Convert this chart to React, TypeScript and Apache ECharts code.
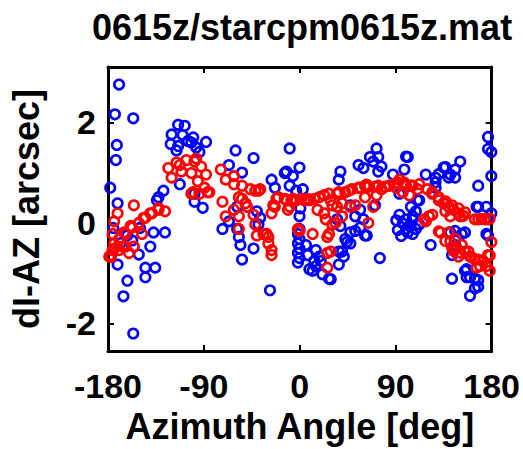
import React, { useEffect, useRef } from "react";
import * as echarts from "echarts";

const titleText = "0615z/starcpm0615z.mat";
const xName = "Azimuth Angle [deg]";
const yName = "dI-AZ [arcsec]";
const xTicks = [-180, -90, 0, 90, 180];
const yTicks = [-2, 0, 2];

// blue series: [azimuth deg, dI-AZ arcsec]
const bluePoints: number[][] = [
  [-169.6, 2.75], [-173.5, 2.16], [-156.3, 2.08], [-171.7, 1.55], [-172.6, 1.25], [-177.9, 0.7], [-171, 0.39],
  [-128, 0.64], [-132.6, 0.51], [-134.1, 0.45], [-137.3, -0.19], [-126.5, -0.19], [-140.3, -0.47], [-157.2, -0.35],
  [-151.1, -0.63], [-171, -0.83], [-144.9, -0.89], [-144.9, -1.08], [-135.7, -0.89], [-161.8, -1.15], [-165.5, -1.46],
  [-156.3, -2.2], [-175, -0.1], [-168, -0.4], [-162, -0.25], [-150, -0.1],
  [-114.2, 1.95], [-108, 1.93], [-120.3, 1.76], [-121.2, 1.57], [-105, 1.63], [-88, 1.61], [-97.2, 1.5], [-94.2, 1.41],
  [-101.8, 1.6], [-114.2, 1.53], [-115.7, 1.44], [-110, 1.75], [-100, 1.7], [-112.6, 0.77], [-98.8, 0.58], [-98.8, 0.42], [-91.1, 0.3],
  [-60.3, 1.44], [-66.5, 1.15], [-43.4, 1.29], [-54.2, 1.0], [-58.8, 0.32], [-58.8, -0.12],
  [-72.6, -0.12], [-66.5, 0.03], [-57.2, -0.28], [-55.7, -0.44], [-54.2, -0.73], [-43.4, -0.51], [-40.3, 0.23], [-37.2, 0.1],
  [-38.8, -0.03], [-28, -1.34], [-26.5, 0.86], [-23.4, 0.7], [-14.1, 0.99], [-9.5, 1.48], [-6.5, 0.93], [-0.3, 1.1],
  [-9.5, 0.74], [-3.4, 0.64], [2.8, 0.67], [-12.6, 1.02],
  [-0.3, 0.13], [-0.3, -0.12], [-1.8, -0.22], [-0.3, -0.32], [-1.8, -0.41], [-0.3, -0.51], [-1.8, -0.6], [-0.3, -0.7], [-1.8, -0.79], [0.5, 0.29],
  [5.8, -0.44], [7.4, -0.64], [9, -0.92], [12, -0.95], [15, -0.54], [13.6, -0.76], [15, -0.86], [18.2, -0.67], [19.7, -0.76],
  [21.2, -1.02], [27.4, -1.11], [29, -1.12], [36.6, -0.83], [39.7, -0.57], [41.3, -0.67], [36.6, -0.57], [44.3, -0.38], [42.7, -0.32],
  [47.4, -0.41], [35, 0.07], [38.1, -0.06], [47.4, -0.19], [52, 0.13], [52, -0.16], [56.6, -0.09], [61.2, -0.25], [47.4, 0.35],
  [38.1, 1.02], [36.6, 0.86], [55.1, 1.15],
  [72, 1.48], [99.7, 1.32], [65.8, 1.31], [68.9, 1.22], [73.6, 1.31], [73.6, 1.02], [76.6, 1.12], [59.7, 1.09], [87.4, 0.96],
  [98.1, 1.06], [101.3, 1.31], [118.2, 0.96], [135, 1.1], [127.4, 0.9], [127.4, 0.81], [141.2, 0.96], [150.5, 1.22], [145.8, 1.06],
  [136.6, 1.11], [130.4, 0.97], [139.7, 0.9], [145.8, 0.9],
  [176.6, 1.71], [176.6, 1.47], [179.7, 1.41], [179.7, 0.93], [167.4, 0.74],
  [127.4, 0.7], [110.5, 0.45], [104.3, 0.32], [105.9, 0.13], [112, 0.45], [108.9, 0.23], [105.9, 0.07], [112, -0.03], [105.9, -0.22],
  [93.5, 0.16], [90.5, 0.05], [96.6, -0.01], [92, -0.14], [99.7, -0.12], [102.8, -0.06], [95.1, -0.26], [108.9, -0.12], [101.3, -0.19],
  [99.7, 0.07], [93.5, 0.58], [70.5, 0.35],
  [59.7, 0.07], [62.8, -0.25], [75.1, -0.7], [56.6, 0.26], [122.8, -0.44], [141.2, -0.19], [145.8, -0.16], [152, -0.22], [145.8, -0.44],
  [142.8, -0.64], [144.3, -0.51], [155, -0.19],
  [167.4, 0.32], [165.9, 0.32], [175.1, 0.32], [179.7, 0.19], [176.6, 0.07], [176.6, -0.25], [175.1, -0.22],
  [155, -0.95], [156.6, -0.92], [159.7, -1.08], [156.6, -1.08], [167.4, -1.14], [164.3, -1.11], [164.3, -1.3], [167.4, -1.27],
  [159.7, -1.45], [142.8, -1.11],
];

// red series: [azimuth deg, dI-AZ arcsec]
const redPoints: number[][] = [
  [-178.8, -0.67], [-177.2, -0.68], [-175.7, -0.54], [-174.2, -0.41], [-169.6, -0.32], [-163.4, -0.22], [-157.2, -0.09],
  [-151.1, 0.0], [-144.9, 0.1], [-138.7, 0.19], [-132.6, 0.29], [-126.5, 0.23], [-155.7, 0.35], [-171, 0.19], [-174.2, 0.03],
  [-175.7, -0.22], [-169.6, -0.54], [-163.4, -0.47], [-155.7, -0.47], [-160.3, -0.6], [-148, -0.22], [-165, -0.19], [-158.8, -0.06],
  [-146.5, 0.1], [-140.3, 0.19], [-132.6, 0.26], [-177.2, -0.64], [-174.2, -0.51], [-166.4, -0.47],
  [-123.4, 1.09], [-115.7, 1.2], [-106.4, 1.25], [-98.8, 1.22], [-92.6, 1.12], [-120.3, 0.9], [-111.1, 1.02], [-101.8, 0.99],
  [-95.7, 0.83], [-89.5, 0.7], [-84.9, 0.61], [-100.3, 0.61], [-94.2, 0.58], [-97.2, 1.28], [-112.6, 1.15], [-88, 0.96],
  [-86.5, 0.61], [-101.8, 0.58],
  [-74.1, 1.06], [-69.5, 0.86], [-61.8, 0.77], [-72.6, 0.42], [-54.2, 0.74], [-46.4, 0.67], [-38.8, 0.64], [-54.2, 0.48],
  [-49.6, 0.32], [-61.8, 0.26], [-69.5, 0.13], [-57.2, 0.13], [-57.2, -0.12], [-43.4, 0.16], [-41.8, -0.03], [-34.2, -0.22],
  [-29.5, -0.28], [-26.5, -0.54], [-26.5, -0.64], [-40.3, -0.25], [-31.1, -0.22], [-29.5, -0.41], [-61.8, 0.93], [-57.2, 0.51],
  [-51, 0.39], [-37.2, 0.67], [-41.8, 0.64],
  [-24.9, 0.35], [-23.4, 0.32], [-26.5, 0.19], [-20.3, 0.51], [-21.9, 0.48], [-14.1, 0.48], [-6.5, 0.48], [1.2, 0.48], [7.4, 0.48],
  [13.6, 0.48], [-12.6, 0.45], [-8, 0.45], [-3.4, 0.45], [4.3, 0.45], [9, 0.45], [-11.1, 0.26], [-9.5, 0.32], [-1.8, -0.12],
  [-0.3, -0.16], [12, -0.22], [16.6, 0.26],
  [22.8, 0.55], [28.9, 0.45], [35, 0.58], [35, 0.32], [39.7, 0.13], [33.5, 0.0], [25.8, -0.28], [28.9, -0.57], [25.8, -0.89],
  [25.8, -0.6], [42.7, 0.61], [48.9, 0.67], [55.1, 0.7], [47.4, 0.32], [22.8, 0.19], [61.2, 0.74], [18.2, 0.51], [27.4, 0.58],
  [36.6, 0.61], [45.9, 0.64], [39.7, 0.39], [30.5, 0.35], [52, 0.35], [24.3, 0.07], [30.5, -0.03], [27.4, -0.22],
  [56.6, 0.7], [62.8, 0.76], [70.5, 0.72], [76.6, 0.67], [61.2, 0.51], [72, 0.55], [68.9, 0.32], [64.3, 0.0], [64.3, 0.72], [73.6, 0.74],
  [88.9, 0.78], [93.5, 0.86], [98.1, 0.8], [104.3, 0.74], [110.5, 0.67], [96.6, 0.61], [102.8, 0.55], [90.5, 0.7], [92, 0.8],
  [99.7, 0.74], [105.9, 0.74], [112, 0.77], [80, 0.72], [84, 0.74],
  [119.7, 0.67], [124.3, 0.58], [130.4, 0.45], [135, 0.39], [139.7, 0.32], [144.3, 0.26], [148.9, 0.19], [153.5, 0.14], [136.6, 0.23],
  [141.2, 0.13], [116.6, 0.07], [124.3, 0.16], [118.2, 0.03], [121.2, 0.13], [124.3, 0.61], [130.4, 0.51], [136.6, 0.43],
  [142.8, 0.35], [148.9, 0.29], [155, 0.21], [150.5, 0.13],
  [132, -0.19], [139.7, -0.19], [145.8, -0.32], [141.2, -0.37], [147.4, -0.51], [152, -0.44], [155, -0.57], [159.7, -0.67],
  [164.3, -0.73], [169, -0.86], [144.3, -0.56], [148.9, -0.67], [130.4, -0.17], [136.6, -0.36], [142.8, -0.49], [150.5, -0.59],
  [158.2, -0.57], [161.2, -0.68], [167.4, -0.73], [165.9, -0.89], [175.1, -0.86],
  [164.3, 0.07], [170.5, 0.08], [178.2, 0.08], [167.4, 0.07], [173.6, 0.07], [179.7, -0.38], [176.6, -0.64], [178.2, -0.95],
  [172, -0.76], [178.2, -0.65],
];

const FONT = "'Liberation Sans', Arial, sans-serif";

export default function App() {
  const ref = useRef<HTMLDivElement>(null);
  useEffect(() => {
    if (!ref.current) return;
    const chart = echarts.init(ref.current, null, { renderer: "svg" });
    const axisLine = { show: true, onZero: false, lineStyle: { color: "#000", width: 3 } };
    const tick = { show: true, inside: true, length: 6, lineStyle: { color: "#000", width: 2 } };
    const lbl = { color: "#000", fontFamily: FONT, fontWeight: "bold" as const, fontSize: 34 };
    const nameStyle = { color: "#000", fontFamily: FONT, fontWeight: "bold" as const, fontSize: 36 };
    chart.setOption({
      animation: false,
      backgroundColor: "#fff",
      title: {
        text: titleText,
        left: 297,
        textAlign: "center",
        top: 4,
        textStyle: { color: "#000", fontFamily: FONT, fontWeight: "bold", fontSize: 36 },
      },
      grid: { left: 102, right: 30, top: 67, bottom: 87, containLabel: false },
      xAxis: [
        {
          type: "value", min: -180, max: 180, interval: 90, position: "bottom",
          axisLine, splitLine: { show: false },
          axisTick: tick,
          axisLabel: { ...lbl, margin: 18, customValues: xTicks },
          name: xName, nameLocation: "middle", nameGap: 52,
          nameTextStyle: nameStyle,
        },
        {
          type: "value", min: -180, max: 180, interval: 90, position: "top",
          axisLine, splitLine: { show: false },
          axisTick: tick,
          axisLabel: { show: false },
        },
      ],
      yAxis: [
        {
          type: "value", min: -2.55, max: 3.1, position: "left",
          axisLine, splitLine: { show: false },
          axisTick: { ...tick, customValues: yTicks },
          axisLabel: { ...lbl, margin: 12, customValues: yTicks },
          name: yName, nameLocation: "middle", nameGap: 64, nameRotate: 90,
          nameTextStyle: nameStyle,
        },
        {
          type: "value", min: -2.55, max: 3.1, position: "right",
          axisLine, splitLine: { show: false },
          axisTick: { ...tick, customValues: yTicks },
          axisLabel: { show: false },
        },
      ],
      series: [
        {
          type: "scatter", name: "blue", data: bluePoints, symbol: "circle", symbolSize: 9.5,
          itemStyle: { color: "rgba(0,0,0,0)", borderColor: "#0000ff", borderWidth: 2.6, opacity: 1 },
          emphasis: { disabled: true }, silent: true,
        },
        {
          type: "scatter", name: "red", data: redPoints, symbol: "circle", symbolSize: 9.5,
          itemStyle: { color: "rgba(0,0,0,0)", borderColor: "#ff0000", borderWidth: 2.6, opacity: 1 },
          emphasis: { disabled: true }, silent: true,
        },
      ],
    });
    return () => chart.dispose();
  }, []);
  return (
    <div
      ref={ref}
      style={{ position: "fixed", left: 0, top: 0, width: 523, height: 449, background: "#fff" }}
    />
  );
}
